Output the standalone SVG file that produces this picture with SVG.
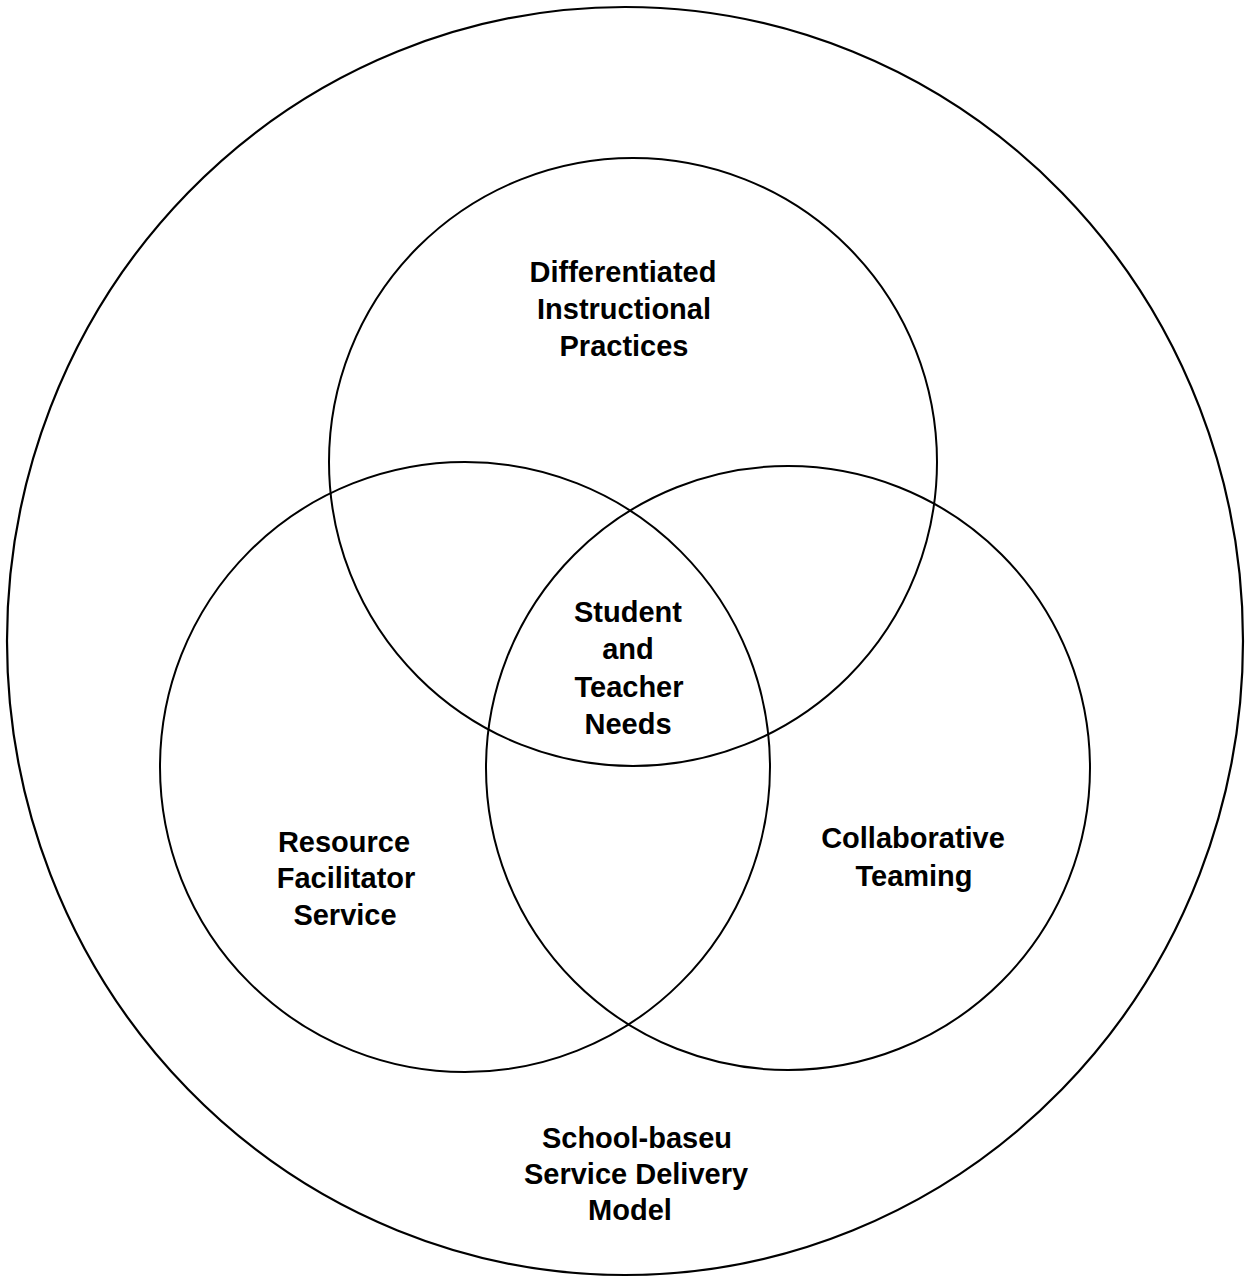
<svg xmlns="http://www.w3.org/2000/svg" width="1248" height="1278" viewBox="0 0 1248 1278">
<style>
.c{fill:none;stroke:#000;stroke-width:2}
.o{fill:none;stroke:#000;stroke-width:2.2}
text{font-family:"Liberation Sans",Arial,sans-serif;font-weight:bold;font-size:29px;fill:#000;text-anchor:middle}
</style>
<rect width="1248" height="1278" fill="#fff"/>
<g id="outer">
<ellipse class="o" cx="625" cy="641" rx="618" ry="634"/>
<text x="637" y="1148">School-baseu</text>
<text x="636" y="1184">Service Delivery</text>
<text x="630" y="1220">Model</text>
</g>
<g id="top">
<circle class="c" cx="633" cy="462" r="304"/>
<text x="623" y="282">Differentiated</text>
<text x="624" y="319">Instructional</text>
<text x="624" y="356">Practices</text>
</g>
<g id="left">
<circle class="c" cx="465" cy="767" r="305"/>
<text x="344" y="852">Resource</text>
<text x="346" y="888">Facilitator</text>
<text x="345" y="925">Service</text>
</g>
<g id="right">
<circle class="c" cx="788" cy="768" r="302"/>
<text x="913" y="848">Collaborative</text>
<text x="914" y="886">Teaming</text>
</g>
<g id="center">
<text x="628" y="622">Student</text>
<text x="628" y="659">and</text>
<text x="629" y="697">Teacher</text>
<text x="628" y="734">Needs</text>
</g>
<g id="connectors"></g>
</svg>
